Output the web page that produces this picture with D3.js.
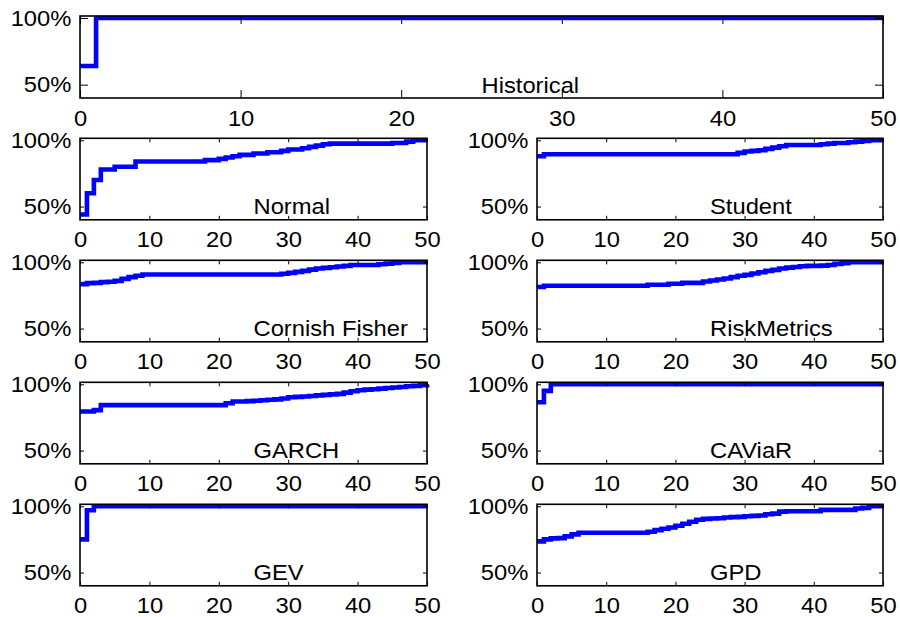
<!DOCTYPE html>
<html>
<head>
<meta charset="utf-8">
<script src="https://cdn.jsdelivr.net/npm/d3@7"></script>
<style>
  html, body { margin: 0; padding: 0; background: #fff; }
  svg { display: block; }
  text { font-family: "Liberation Sans", Arial, Helvetica, sans-serif; fill: #000; }
</style>
</head>
<body>
<svg id="chart" width="900" height="617"></svg>
<script>
// ---------------- data ----------------
const xTicks = [0, 10, 20, 30, 40, 50];
const yTicks = [50, 100];
const yTickLabels = ["50%", "100%"];
const methods = ["Historical", "Normal", "Student", "Cornish Fisher", "RiskMetrics", "GARCH", "CAViaR", "GEV", "GPD"];

// values at x = 0..50 (stairs)
const historical = [64].concat(new Array(50).fill(100));
const normal = [44, 60, 70, 78, 78, 80, 80, 80, 84, 84, 84, 84, 84, 84, 84, 84, 84, 84, 85, 85,
  86, 87, 88, 89, 89, 90, 90, 91, 91, 92, 93, 93, 94, 95, 96, 97, 97.5, 97.5, 97.5, 97.5,
  97.5, 97.5, 97.5, 97.5, 97.5, 98, 98, 99, 100, 100, 100];
const student = [88, 89.5, 89.5, 89.5, 89.5, 89.5, 89.5, 89.5, 89.5, 89.5, 89.5, 89.5, 89.5, 89.5, 89.5, 89.5, 89.5, 89.5, 89.5, 89.5,
  89.5, 89.5, 89.5, 89.5, 89.5, 89.5, 89.5, 89.5, 89.5, 90.5, 91.5, 92, 92.5, 93.5, 94.5, 95.5, 96.5, 96.5, 96.5, 96.5,
  96.5, 97, 97.5, 98, 98, 98.5, 99, 99.5, 100, 100, 100];
const cornishFisher = [83.5, 84.3, 84.5, 85, 85.3, 86, 87.5, 88.8, 89.8, 90.8, 90.8, 90.8, 90.8, 90.8, 90.8, 90.8, 90.8, 90.8, 90.8, 90.8,
  90.8, 90.8, 90.8, 90.8, 90.8, 90.8, 90.8, 90.8, 90.8, 91.3, 92, 92.8, 93.5, 94.5, 95.3, 95.8, 96.3, 96.8, 97.3, 98,
  98, 98, 98, 98.5, 99, 99.5, 100, 100, 100, 100, 100];
const riskMetrics = [81.3, 82.3, 82.3, 82.3, 82.3, 82.3, 82.3, 82.3, 82.3, 82.3, 82.3, 82.3, 82.3, 82.3, 82.3, 82.3, 83, 83, 83, 83.8,
  83.8, 84.5, 84.5, 84.5, 85.5, 86.3, 87, 87.8, 88.8, 89.8, 90.5, 91.5, 92.5, 93.5, 94.3, 95.3, 96, 96.5, 97, 97.3,
  97.3, 97.5, 98, 98.8, 99.3, 100, 100, 100, 100, 100, 100];
const garch = [79.5, 79.5, 80.5, 84.3, 84.3, 84.3, 84.3, 84.3, 84.3, 84.3, 84.3, 84.3, 84.3, 84.3, 84.3, 84.3, 84.3, 84.3, 84.3, 84.3,
  84.3, 85.7, 87, 87, 87.3, 87.6, 88, 88.3, 88.6, 89.3, 90.2, 90.5, 90.8, 91.2, 91.6, 92, 92.4, 92.8, 93.7, 94.8,
  95.5, 96, 96.3, 96.7, 97.2, 97.6, 98, 98.5, 98.8, 99.3, 100];
const caviar = [86.5, 95].concat(new Array(49).fill(100));
const gev = [75, 97].concat(new Array(49).fill(100));
const gpd = [73.5, 75, 75.8, 76, 77.3, 78.8, 80, 80, 80, 80, 80, 80, 80, 80, 80, 80, 80.8, 82, 83, 84,
  85.3, 86.8, 88.3, 89.8, 90.5, 90.8, 91, 91.5, 91.8, 92, 92.5, 92.8, 93, 94, 94.5, 96, 96.3, 96.3, 96.3, 96.3,
  96.3, 97.3, 97.3, 97.3, 97.3, 97.3, 98.3, 98.8, 100, 100, 100];
const seriesList = [historical, normal, student, cornishFisher, riskMetrics, garch, caviar, gev, gpd];

// ---------------- layout ----------------
const svg = d3.select("#chart");
const FONT = 22, SX = 1.08;
const panels = [{ x0: 80, x1: 883, y0: 16, y1: 98, tick: 8 }];
for (let r = 0; r < 4; r++) {
  const y0 = 138.3 + 122 * r, y1 = y0 + 81.5;
  panels.push({ x0: 80, x1: 427, y0, y1, tick: 4 });
  panels.push({ x0: 537, x1: 883, y0, y1, tick: 4 });
}

panels.forEach((p, i) => {
  const vals = seriesList[i];
  const data = vals.map((v, k) => ({ x: k, y: v }));
  const x = d3.scaleLinear().domain([0, 50]).range([p.x0, p.x1]);
  const y = d3.scaleLinear().domain([40, 101.5]).range([p.y1, p.y0]);
  const g = svg.append("g");

  // line
  const line = d3.line().x(d => x(d.x)).y(d => y(d.y)).curve(d3.curveStepAfter);
  g.append("path").datum(data)
    .attr("d", line)
    .attr("fill", "none")
    .attr("stroke", "#0000ff")
    .attr("stroke-width", 4.6)
    .attr("stroke-linejoin", "miter");

  // axes
  const styleAxis = sel => {
    sel.select(".domain").remove();
    sel.selectAll("line").attr("stroke", "#000").attr("stroke-width", 1);
    sel.selectAll("text").attr("font-size", FONT).attr("transform", `scale(${SX},1)`)
      .attr("font-family", '"Liberation Sans", Arial, sans-serif');
  };
  g.append("g").attr("transform", `translate(0,${p.y1})`)
    .call(d3.axisBottom(x).tickValues(xTicks).tickFormat(d3.format("d")).tickSizeInner(-p.tick).tickSizeOuter(0).tickPadding(12))
    .call(styleAxis);
  g.append("g").attr("transform", `translate(0,${p.y0})`)
    .call(d3.axisTop(x).tickValues(xTicks).tickFormat("").tickSizeInner(-p.tick).tickSizeOuter(0))
    .call(styleAxis);
  g.append("g").attr("transform", `translate(${p.x0},0)`)
    .call(d3.axisLeft(y).tickValues(yTicks).tickFormat((d, k) => yTickLabels[k]).tickSizeInner(-p.tick).tickSizeOuter(0).tickPadding(8))
    .call(styleAxis);
  g.append("g").attr("transform", `translate(${p.x1},0)`)
    .call(d3.axisRight(y).tickValues(yTicks).tickFormat("").tickSizeInner(-p.tick).tickSizeOuter(0))
    .call(styleAxis);

  // box
  g.append("rect")
    .attr("x", p.x0).attr("y", p.y0)
    .attr("width", p.x1 - p.x0).attr("height", p.y1 - p.y0)
    .attr("fill", "none").attr("stroke", "#000").attr("stroke-width", 1.6);

  // label
  g.append("g").attr("transform", `translate(${x(25)},${y(50)})`)
    .append("text")
    .attr("transform", `scale(${SX},1)`)
    .attr("font-size", FONT)
    .attr("dy", "0.36em")
    .text(methods[i]);
});
</script>
</body>
</html>
